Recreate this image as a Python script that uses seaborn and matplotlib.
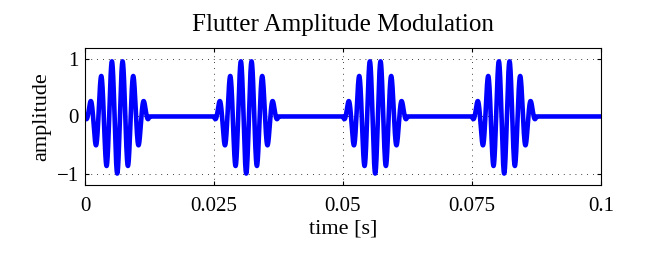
import numpy as np
import pandas as pd
import matplotlib
matplotlib.use("Agg")
import matplotlib.pyplot as plt
import seaborn as sns

# burst parameters
burst_starts = [0.0, 0.025, 0.05, 0.075]
burst_length = 0.0125      # s, half of the repetition period
carrier_hz = 480.0         # 6 cycles per burst
peak_amplitude = 1.0
duration = 0.1
n_samples = 4001

xticks = [0, 0.025, 0.05, 0.075, 0.1]
xticklabels = ["0", "0.025", "0.05", "0.075", "0.1"]
yticks = [-1, 0, 1]
yticklabels = ["\u22121", "0", "1"]

t = np.linspace(0, duration, n_samples)
y = np.zeros_like(t)
for s in burst_starts:
    inside = (t >= s) & (t <= s + burst_length)
    tau = t[inside] - s
    window = np.sin(np.pi * tau / burst_length)
    y[inside] = -peak_amplitude * window * np.cos(2 * np.pi * carrier_hz * tau)

df = pd.DataFrame({"time": t, "amplitude": y})

sns.set_style("ticks")
plt.rcParams["font.family"] = ["Liberation Serif", "DejaVu Serif"]
plt.rcParams["text.color"] = "black"
plt.rcParams["axes.labelcolor"] = "black"

fig = plt.figure(figsize=(6.64, 2.58), dpi=100)
ax = fig.add_axes([0.128, 0.283, 0.777, 0.531])

sns.lineplot(data=df, x="time", y="amplitude", ax=ax, color="#0000ff",
             linewidth=3.3, estimator=None, sort=False)

ax.set_xlim(0, duration)
ax.set_ylim(-1.2, 1.2)
ax.set_xticks(xticks)
ax.set_xticklabels(xticklabels, fontsize=15)
ax.set_yticks(yticks)
ax.set_yticklabels(yticklabels, fontsize=15)
ax.tick_params(direction="in", length=3, width=0.8, top=True, right=True,
               colors="black", labelcolor="black")
ax.tick_params(axis="x", pad=9)
ax.tick_params(axis="y", pad=4.5)
ax.grid(True, color="black", linestyle=(0, (1, 6)), linewidth=0.6)
ax.set_axisbelow(True)
for sp in ax.spines.values():
    sp.set_visible(True)
    sp.set_color("black")
    sp.set_linewidth(0.8)

ax.set_xlabel("time [s]", fontsize=16, labelpad=2)
ax.set_ylabel("amplitude", fontsize=16, labelpad=4)
ax.set_title("Flutter Amplitude Modulation", fontsize=18, pad=12)

fig.savefig("out.png", dpi=100, facecolor="white")
